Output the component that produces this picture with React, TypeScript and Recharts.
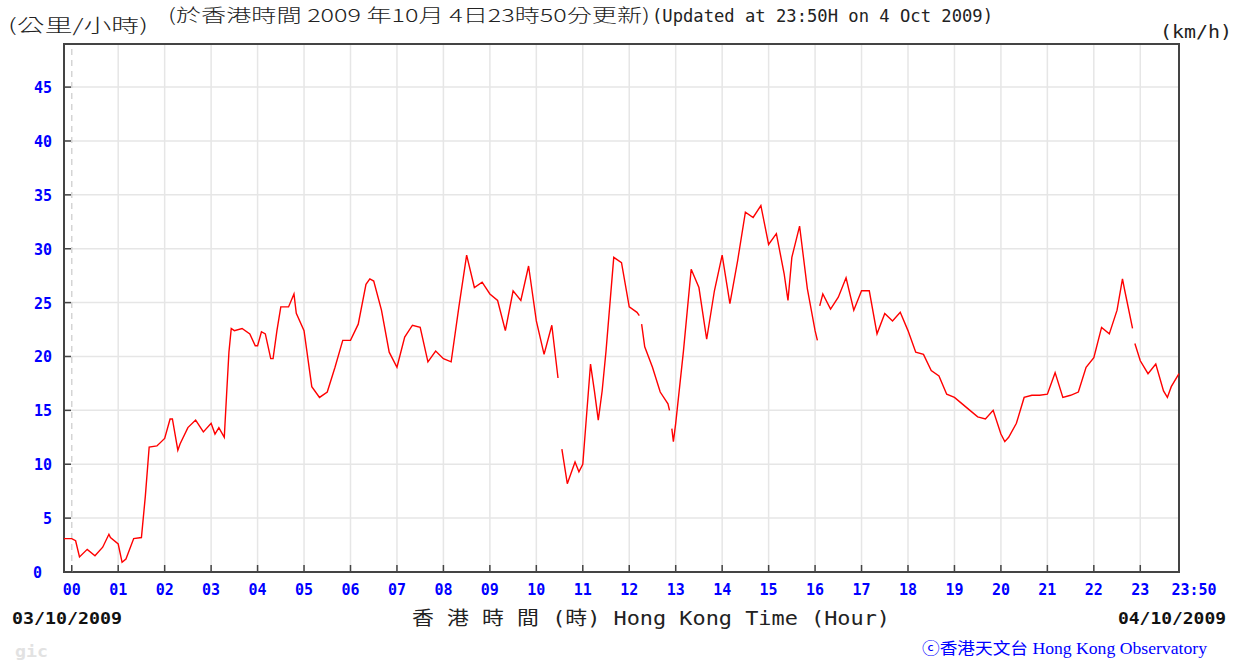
import React from "react";
import {
  CartesianGrid,
  Line,
  LineChart,
  ReferenceArea,
  ReferenceLine,
  XAxis,
  YAxis,
} from "recharts";

// minutes from 00:00 on 04/10 (negative = previous day)
const minutes = [
  -10, 0, 5, 10, 20, 30, 40, 48, 50, 60, 65, 70, 80, 90, 95, 100, 110, 120, 127, 130,
  137, 140, 150, 160, 170, 180, 185, 190, 197, 200, 203, 206, 210, 220, 230, 237, 240, 245, 250, 257, 260,
  265, 270, 280, 287, 290, 300, 310, 320, 330, 340, 350, 360, 370, 380, 385, 390, 400, 410, 420, 430,
  440, 450, 460, 470, 480, 490, 500, 510, 520, 530, 540, 550, 560, 570, 580, 590, 600, 610, 620, 628,
  630, 633, 640, 650, 655, 660, 670, 675, 680, 685, 690, 700, 710, 720, 730, 733, 734, 736, 740, 750,
  760, 770, 772, 774, 775, 777, 780, 790, 800, 810, 820, 830, 840, 850, 860, 870, 880, 890, 900, 910,
  920, 925, 930, 940, 950, 960, 963, 965, 966, 970, 980, 990, 1000, 1010, 1020, 1030, 1040, 1050, 1060, 1070,
  1080, 1090, 1100, 1110, 1120, 1130, 1140, 1150, 1160, 1170, 1180, 1190, 1200, 1205, 1210, 1220, 1230, 1240, 1250, 1260,
  1270, 1280, 1290, 1300, 1310, 1320, 1330, 1340, 1350, 1357, 1360, 1370, 1372, 1373, 1380, 1390, 1400, 1410, 1415, 1420,
  1430,
];

// wind speed, km/h
const speeds: (number | null)[] = [
  3.1, 3.1, 2.9, 1.4, 2.1, 1.5, 2.3, 3.5, 3.2, 2.6, 0.9, 1.2, 3.1, 3.2, 7.0, 11.6, 11.7, 12.4, 14.2, 14.2,
  11.3, 11.9, 13.4, 14.1, 13.0, 13.8, 12.8, 13.4, 12.5, 16.5, 20.4, 22.6, 22.4, 22.6, 22.1, 21.0, 21.0, 22.3, 22.1, 19.8, 19.8,
  22.4, 24.6, 24.6, 25.8, 24.0, 22.4, 17.2, 16.2, 16.7, 19.0, 21.5, 21.5, 23.0, 26.7, 27.2, 27.0, 24.3, 20.4, 19.0, 21.8,
  22.9, 22.7, 19.5, 20.5, 19.8, 19.5, 24.6, 29.4, 26.4, 26.9, 25.8, 25.2, 22.4, 26.1, 25.2, 28.4, 23.3, 20.2, 22.9, 18.0,
  null, 11.4, 8.2, 10.2, 9.3, 10.0, 19.3, 16.8, 14.1, 16.8, 20.5, 29.2, 28.7, 24.6, 24.1, 23.8, null, 23.0, 20.9, 19.0,
  16.7, 15.6, 15.0, null, 13.3, 12.1, 13.8, 20.5, 28.1, 26.4, 21.6, 26.1, 29.4, 24.9, 28.9, 33.4, 32.9, 34.0, 30.4, 31.4,
  27.7, 25.2, 29.2, 32.1, 26.3, 22.4, 21.5, null, 24.7, 25.8, 24.4, 25.5, 27.3, 24.3, 26.1, 26.1, 22.1, 24.0, 23.3, 24.1,
  22.4, 20.4, 20.2, 18.7, 18.2, 16.5, 16.2, 15.6, 15.0, 14.4, 14.2, 15.0, 12.8, 12.1, 12.5, 13.8, 16.2, 16.4, 16.4, 16.5,
  18.5, 16.2, 16.4, 16.7, 19.0, 19.9, 22.7, 22.1, 24.3, 27.2, 26.1, 22.6, null, 21.2, 19.6, 18.4, 19.3, 16.8, 16.2, 17.2,
  18.4,
];

const hourTicks = [
  0, 60, 120, 180, 240, 300, 360, 420, 480, 540, 600, 660, 720, 780, 840, 900, 960, 1020, 1080, 1140,
  1200, 1260, 1320, 1380, 1430,
];
const gridHours = hourTicks.slice(1, 24);
const speedTicks = [0, 5, 10, 15, 20, 25, 30, 35, 40, 45];

const data = minutes.map((m, i) => ({ t: m, speed: speeds[i] }));

const BLUE = "#0000ff";
const FRAME = "#444";
const tickFont = "'DejaVu Sans Mono', monospace";

function hourLabel(v: number) {
  if (v === 1430) return "23:50";
  const h = Math.round(v / 60);
  return h < 10 ? `0${h}` : `${h}`;
}

function XTick(props: any) {
  const { x, y, payload } = props;
  const last = payload.value === 1430;
  return (
    <g>
      {!last && <line x1={x} y1={y} x2={x} y2={y - 7} stroke={FRAME} strokeWidth={1.5} />}
      <text
        x={last ? x + 15 : x}
        y={y + 23}
        textAnchor="middle"
        fill={BLUE}
        fontFamily={tickFont}
        fontWeight="bold"
        fontSize={15}
      >
        {hourLabel(payload.value)}
      </text>
    </g>
  );
}

function LeftTick(props: any) {
  const { x, y, payload } = props;
  const zero = payload.value === 0;
  return (
    <g>
      {!zero && <line x1={x} y1={y} x2={x + 7} y2={y} stroke={FRAME} strokeWidth={1.5} />}
      <text
        x={zero ? x - 22 : x - 12}
        y={y + 6}
        textAnchor="end"
        fill={BLUE}
        fontFamily={tickFont}
        fontWeight="bold"
        fontSize={15}
      >
        {payload.value}
      </text>
    </g>
  );
}

function RightTick(props: any) {
  const { x, y, payload } = props;
  const zero = payload.value === 0;
  return (
    <g>
      {!zero && <line x1={x} y1={y} x2={x - 7} y2={y} stroke={FRAME} strokeWidth={1.5} />}
      <text
        x={x + 7}
        y={y + 6}
        textAnchor="start"
        fill={BLUE}
        fontFamily={tickFont}
        fontWeight="bold"
        fontSize={15}
      >
        {payload.value}
      </text>
    </g>
  );
}

export default function App() {
  return (
    <div style={{ position: "absolute", left: 0, top: 0, width: 1241, height: 664, background: "#fff" }}>
      <LineChart
        width={1241}
        height={664}
        data={data}
        margin={{ top: 44, right: 12, bottom: 62, left: 14 }}
      >
        <CartesianGrid
          yAxisId="l"
          stroke="#e6e6e6"
          strokeWidth={1.5}
          verticalValues={gridHours}
          horizontalValues={speedTicks.slice(1)}
        />
        <XAxis
          dataKey="t"
          type="number"
          domain={[-10, 1430]}
          ticks={hourTicks}
          interval={0}
          height={30}
          tickSize={0}
          tickMargin={0}
          tickLine={false}
          axisLine={false}
          tick={<XTick />}
        />
        <YAxis
          yAxisId="l"
          orientation="left"
          width={50}
          domain={[0, 49]}
          ticks={speedTicks}
          interval={0}
          tickSize={0}
          tickMargin={0}
          tickLine={false}
          axisLine={false}
          tick={<LeftTick />}
        />
        <YAxis
          yAxisId="r"
          orientation="right"
          width={50}
          domain={[0, 49]}
          ticks={speedTicks}
          interval={0}
          tickSize={0}
          tickMargin={0}
          tickLine={false}
          axisLine={false}
          tick={<RightTick />}
        />
        <ReferenceLine yAxisId="l" x={0} stroke="#d4d4d4" strokeWidth={1.5} strokeDasharray="6 5" />
        <Line
          yAxisId="l"
          type="linear"
          dataKey="speed"
          stroke="#ff0000"
          strokeWidth={1.4}
          dot={false}
          connectNulls={false}
          isAnimationActive={false}
        />
        <ReferenceArea
          yAxisId="l"
          x1={-10}
          x2={1430}
          y1={0}
          y2={49}
          fill="none"
          stroke={FRAME}
          strokeWidth={2}
          ifOverflow="visible"
        />
      </LineChart>
      <svg
        width={1241}
        height={664}
        style={{ position: "absolute", left: 0, top: 0, pointerEvents: "none" }}
      >
        <text x={8} y={32} fontFamily="'Noto Sans CJK TC'" fontWeight={300} fontSize={18} fill="#222" textLength={140} lengthAdjust="spacingAndGlyphs">
          (公里/小時)
        </text>
        <text x={168} y={22} fontFamily="'Noto Sans CJK TC'" fontWeight={300} fontSize={18} fill="#222" textLength={482} lengthAdjust="spacingAndGlyphs">
          (於香港時間 2009 年10月 4日23時50分更新)
        </text>
        <text x={652} y={22} fontFamily={tickFont} fontSize={18} fill="#222" textLength={341} lengthAdjust="spacingAndGlyphs">
          (Updated at 23:50H on 4 Oct 2009)
        </text>
        <text x={1160} y={38} fontFamily={tickFont} fontSize={17} fill="#222" textLength={72} lengthAdjust="spacingAndGlyphs">
          (km/h)
        </text>
        <text x={12} y={624} fontFamily={tickFont} fontWeight="bold" fontSize={15} fill="#111" textLength={110} lengthAdjust="spacingAndGlyphs">
          03/10/2009
        </text>
        <text x={1118} y={624} fontFamily={tickFont} fontWeight="bold" fontSize={15} fill="#111" textLength={108} lengthAdjust="spacingAndGlyphs">
          04/10/2009
        </text>
        <text x={412} y={625} fontFamily="'DejaVu Sans Mono', 'Noto Sans CJK TC'" fontSize={19} fill="#222" textLength={478} lengthAdjust="spacingAndGlyphs">
          香 港 時 間 (時) Hong Kong Time (Hour)
        </text>
        <text x={15} y={657} fontFamily={tickFont} fontWeight="bold" fontSize={15} fill="#e2e2e2" textLength={33} lengthAdjust="spacingAndGlyphs">
          gic
        </text>
        <text x={922} y={654} fontFamily="'Liberation Serif', 'Noto Sans CJK TC', serif" fontSize={16} fill={BLUE} textLength={285} lengthAdjust="spacingAndGlyphs">
          ⓒ香港天文台 Hong Kong Observatory
        </text>
      </svg>
    </div>
  );
}
